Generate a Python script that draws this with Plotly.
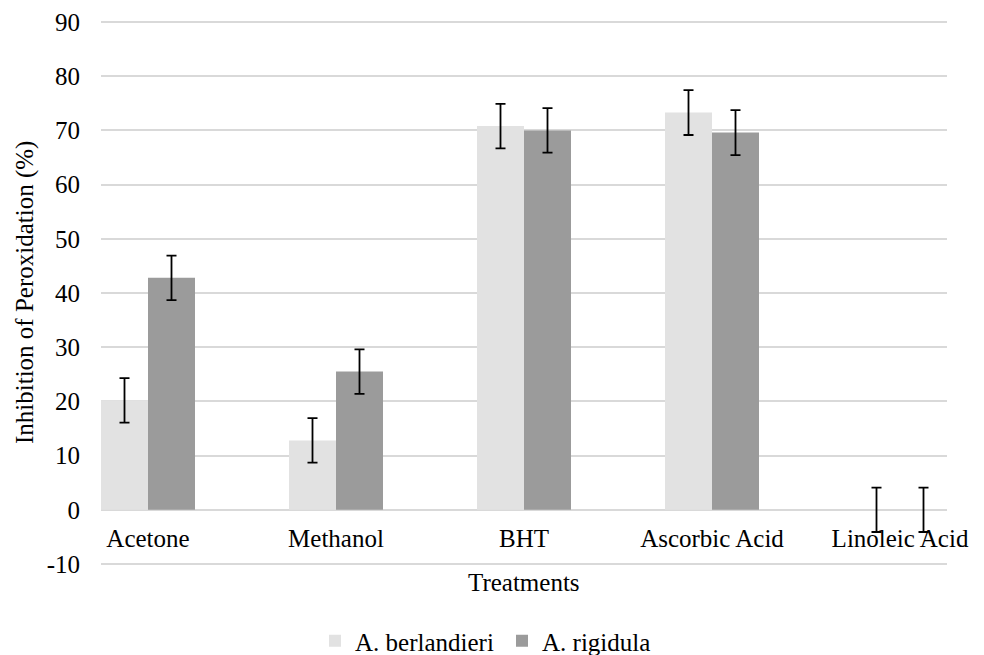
import plotly.graph_objects as go

categories = ["Acetone", "Methanol", "BHT", "Ascorbic Acid", "Linoleic Acid"]
berlandieri = [20.2, 12.8, 70.8, 73.3, 0.0]
berlandieri_err = [4.1, 4.1, 4.1, 4.15, 4.1]
rigidula = [42.8, 25.5, 70.0, 69.6, 0.0]
rigidula_err = [4.1, 4.1, 4.1, 4.15, 4.1]
y_ticks = [-10, 0, 10, 20, 30, 40, 50, 60, 70, 80, 90]
y_tick_text = [str(v) for v in y_ticks]

FONT = "Liberation Serif, Times New Roman, serif"
GRID = "#D9D9D9"

W, H = 984, 655
ML, MR, MT, MB = 101, 37, 20, 89
PW, PH = W - ML - MR, H - MT - MB
Y_RANGE = [-10.37, 90.37]


def px_x(p):
    return (p - ML) / PW


def px_y(p):
    return (H - MB - p) / PH


zero_pos = (0 - Y_RANGE[0]) / (Y_RANGE[1] - Y_RANGE[0])

fig = go.Figure()
fig.add_trace(go.Bar(
    name="A. berlandieri", x=categories, y=berlandieri,
    marker=dict(color="#E2E2E2", line=dict(width=0)),
    error_y=dict(type="data", array=berlandieri_err, visible=True,
                 color="black", thickness=1.8, width=5),
))
fig.add_trace(go.Bar(
    name="A. rigidula", x=categories, y=rigidula,
    marker=dict(color="#9B9B9B", line=dict(width=0)),
    error_y=dict(type="data", array=rigidula_err, visible=True,
                 color="black", thickness=1.8, width=5),
))

fig.update_layout(
    width=W, height=H,
    margin=dict(l=ML, r=MR, t=MT, b=MB, autoexpand=False),
    paper_bgcolor="white", plot_bgcolor="white",
    font=dict(family=FONT, size=25, color="black"),
    barmode="group", bargap=0.5, bargroupgap=0,
    showlegend=True,
    legend=dict(orientation="h", x=px_x(315), xanchor="left",
                y=px_y(641), yanchor="middle", font=dict(size=25),
                itemwidth=30, entrywidth=142, traceorder="normal"),
    xaxis=dict(
        type="category", range=[-0.25, 4.25],
        anchor="free", position=zero_pos,
        showgrid=False, showline=False, zeroline=False,
        ticks="outside", ticklen=6, tickcolor="rgba(0,0,0,0)",
        tickfont=dict(size=25), automargin=False,
    ),
    yaxis=dict(
        range=Y_RANGE, tickvals=y_ticks, ticktext=y_tick_text,
        showgrid=True, gridcolor=GRID, gridwidth=1.5,
        zeroline=True, zerolinecolor=GRID, zerolinewidth=1.5,
        showline=False, ticks="", ticklabelstandoff=20,
        tickfont=dict(size=25), automargin=False,
    ),
    annotations=[
        dict(text="Treatments", xref="paper", yref="paper", x=0.5,
             y=px_y(583), xanchor="center", yanchor="middle",
             showarrow=False, font=dict(size=25)),
        dict(text="Inhibition of Peroxidation (%)", xref="paper",
             yref="paper", x=px_x(25), y=px_y(293), xanchor="center",
             yanchor="middle", textangle=-90, showarrow=False,
             font=dict(size=25)),
    ],
)

fig.write_html("out.html")
